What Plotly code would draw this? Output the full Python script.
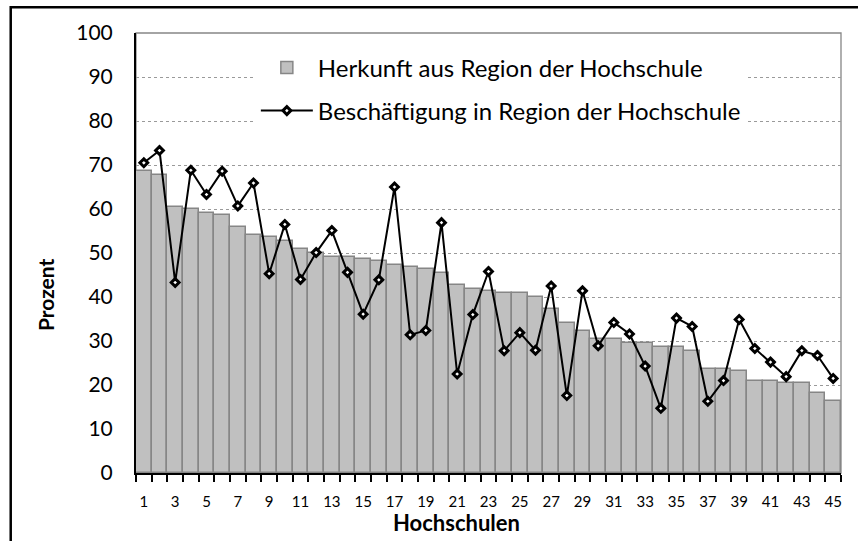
import plotly.graph_objects as go

hochschulen = list(range(1, 46))
herkunft = [68.6, 67.8, 60.5, 60.0, 59.1, 58.6, 55.9, 54.2, 53.6, 52.7,
            50.9, 50.1, 49.2, 49.1, 48.6, 48.2, 47.3, 46.8, 46.4, 45.5,
            42.7, 41.8, 41.4, 40.9, 40.9, 40.0, 37.3, 34.1, 32.3, 30.5,
            30.5, 29.6, 29.6, 28.7, 28.7, 27.8, 23.6, 23.6, 23.2, 20.9,
            20.9, 20.5, 20.5, 18.2, 16.3]
beschaeftigung = [70.5, 73.3, 43.3, 68.8, 63.3, 68.6, 60.7, 65.9, 45.3, 56.5,
                  44.0, 50.1, 55.1, 45.6, 36.1, 43.9, 65.0, 31.4, 32.4, 56.9,
                  22.5, 36.0, 45.8, 27.8, 31.9, 27.9, 42.5, 17.6, 41.4, 28.9,
                  34.2, 31.6, 24.3, 14.7, 35.2, 33.3, 16.3, 21.0, 34.9, 28.3,
                  25.2, 21.9, 27.8, 26.7, 21.5]
x_tick_vals = list(range(1, 46, 2))
x_tick_text = [str(v) for v in x_tick_vals]
y_tick_vals = list(range(0, 101, 10))

FONT = "Lato"

fig = go.Figure()
fig.add_trace(go.Bar(
    x=hochschulen, y=herkunft, width=1.0,
    name="Herkunft aus Region der Hochschule",
    legendgroup="a",
    marker=dict(color="#C0C0C0", line=dict(color="#868686", width=1.5)),
))
fig.add_trace(go.Scatter(
    x=hochschulen, y=beschaeftigung, mode="lines+markers",
    name="Beschäftigung in Region der Hochschule",
    legendgroup="b",
    line=dict(color="black", width=2),
    marker=dict(symbol="diamond", size=6, color="white",
                line=dict(color="black", width=3)),
))

fig.update_layout(
    width=858, height=541,
    margin=dict(l=136, r=17, t=33, b=68),
    paper_bgcolor="white", plot_bgcolor="white",
    font=dict(family=FONT, color="black"),
    bargap=0,
    showlegend=True,
    legend=dict(
        x=0.17, y=0.972, xanchor="left", yanchor="top",
        bgcolor="white", borderwidth=0,
        font=dict(family=FONT, size=24, color="black"),
        tracegroupgap=9, itemwidth=52,
    ),
    xaxis=dict(
        range=[0.5, 45.5], tickmode="array", tickvals=x_tick_vals,
        ticktext=x_tick_text, ticks="", showgrid=False, zeroline=False,
        showline=True, linecolor="black", linewidth=2,
        tickfont=dict(family=FONT, size=15, color="black"),
        ticklabelstandoff=14,
        minor=dict(tick0=0.5, dtick=1, ticks="outside", ticklen=7,
                   tickcolor="black", tickwidth=1.5, showgrid=False),
    ),
    yaxis=dict(
        range=[0, 100], tickmode="array", tickvals=y_tick_vals, ticks="",
        showgrid=True, gridcolor="#9a9a9a", griddash="dot", gridwidth=1.3,
        zeroline=False, showline=True, linecolor="black", linewidth=2,
        tickfont=dict(family=FONT, size=21, color="black"),
        ticklabelstandoff=17,
    ),
    annotations=[
        dict(text="<b>Hochschulen</b>", xref="paper", yref="paper",
             x=0.4546, y=-0.1136, xanchor="center", yanchor="middle",
             showarrow=False, font=dict(family=FONT, size=22, color="black")),
        dict(text="<b>Prozent</b>", xref="paper", yref="paper",
             x=-0.129, y=0.4045, xanchor="center", yanchor="middle",
             textangle=-90, showarrow=False,
             font=dict(family=FONT, size=21, color="black")),
    ],
    shapes=[
        dict(type="rect", xref="paper", yref="paper", x0=0, x1=1, y0=0, y1=1,
             line=dict(color="#868686", width=1.3), layer="below"),
        dict(type="rect", xref="paper", yref="paper", x0=-0.1777, x1=1.2,
             y0=-0.3, y1=1.0584, line=dict(color="black", width=2.5),
             layer="above"),
    ],
)

fig.write_html(
    "out.html",
    config={"displayModeBar": False},
    post_script="document.body.style.margin='0';document.body.style.overflow='hidden';",
)
